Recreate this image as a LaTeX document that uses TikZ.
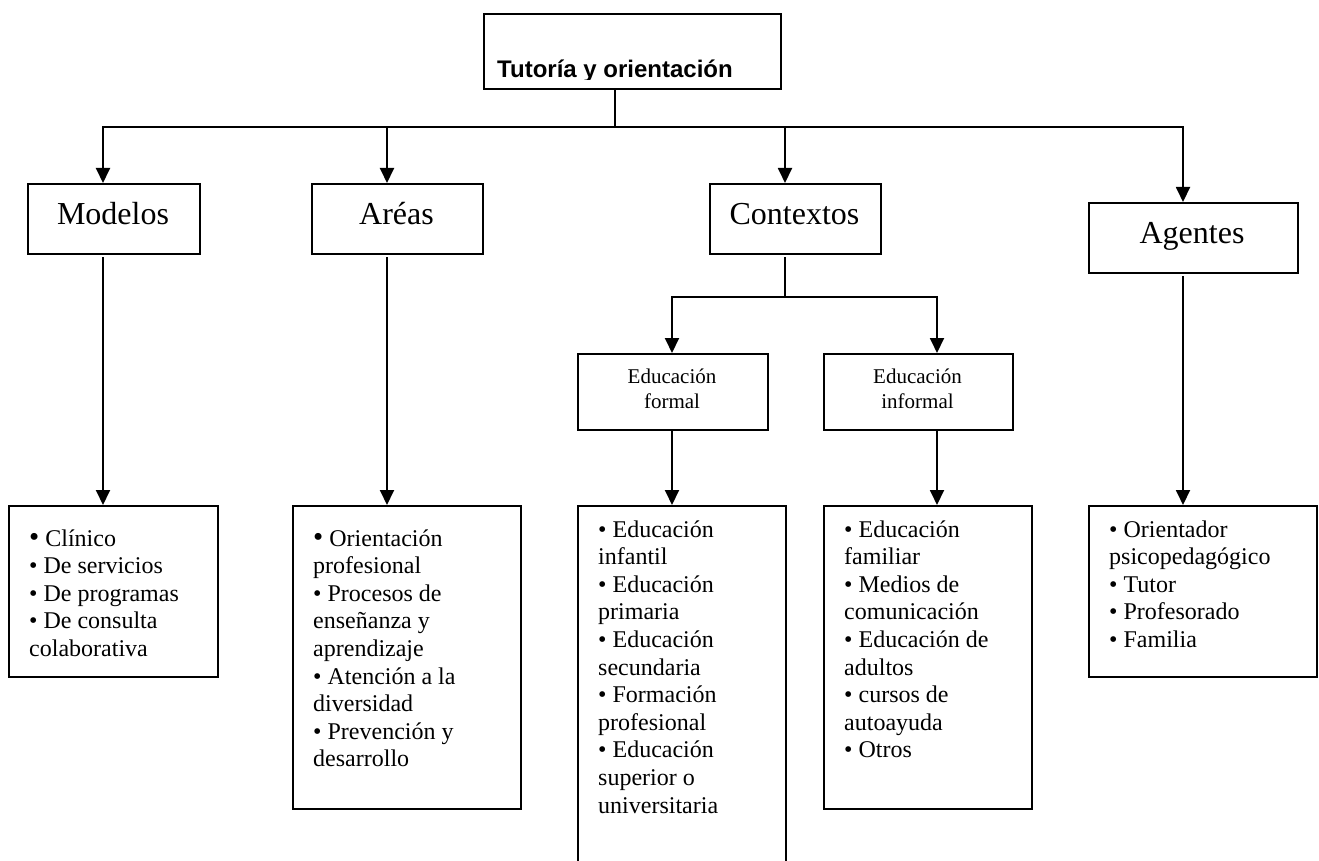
\documentclass[tikz,border=0pt]{standalone}
\usepackage{fontspec}
\setmainfont{Liberation Serif}
\newfontfamily\headfont{Liberation Sans}
\usetikzlibrary{arrows.meta}

\begin{document}
\begin{tikzpicture}[x=1pt,y=-1pt,
  frame/.style={draw, line width=1.9pt, rectangle, inner sep=0pt, anchor=north west},
  link/.style={line width=1.9pt, line cap=rect},
  arr/.style={link, -{Triangle[length=15pt,width=14pt]}},
  headlabel/.style={anchor=base, inner sep=0pt, font=\fontsize{32}{32}\selectfont},
  sublabel/.style={anchor=base, inner sep=0pt, font=\fontsize{21}{25}\selectfont},
  listtext/.style={anchor=base west, inner sep=0pt, font=\fontsize{24}{27.6}\selectfont}]

% page area
\clip (0,0) rectangle (1319,861);
\fill[white] (0,0) rectangle (1319,861);

% root box, its caption is cut off at the lower edge of the text area
\node[frame, minimum width=297pt, minimum height=75pt] (tut) at (483,13) {};
\begin{scope}
  \clip (483,13) rectangle (780,80);
  \node[anchor=base west, inner sep=0pt, font=\headfont\bfseries\fontsize{24}{24}\selectfont] (tutT) at (497,78) {Tutoría y orientación};
\end{scope}

% first level
\node[frame, minimum width=172pt, minimum height=70pt] (mod) at (27,183) {};
\node[frame, minimum width=171pt, minimum height=70pt] (are) at (311,183) {};
\node[frame, minimum width=171pt, minimum height=70pt] (con) at (709,183) {};
\node[frame, minimum width=209pt, minimum height=70pt] (age) at (1088,202) {};
\node[headlabel] (modT) at (113,224) {Modelos};
\node[headlabel] (areT) at (396.5,224) {Aréas};
\node[headlabel] (conT) at (794.5,224) {Contextos};
\node[headlabel] (ageT) at (1192,243) {Agentes};

% contexts
\node[frame, minimum width=190pt, minimum height=76pt] (form) at (577,353) {};
\node[frame, minimum width=189pt, minimum height=76pt] (inf) at (823,353) {};
\node[sublabel] (formT) at (672,383) {\parbox[t]{170pt}{\centering Educación\\formal}};
\node[sublabel] (infT) at (917.5,383) {\parbox[t]{170pt}{\centering Educación\\informal}};

% lists
\node[frame, minimum width=209pt, minimum height=171pt] (modL) at (8,505) {};
\node[frame, minimum width=228pt, minimum height=303pt] (areL) at (292,505) {};
\node[frame, minimum width=208pt, minimum height=420pt] (formL) at (577,505) {};
\node[frame, minimum width=208pt, minimum height=303pt] (infL) at (823,505) {};
\node[frame, minimum width=228pt, minimum height=171pt] (ageL) at (1088,505) {};

\node[listtext] (modLT) at (29,546) {\parbox[t]{185pt}{%
  {\fontsize{29}{24}\selectfont •} Clínico\\
  • De servicios\\
  • De programas\\
  • De consulta\\
  colaborativa}};
\node[listtext] (areLT) at (313,546) {\parbox[t]{200pt}{%
  {\fontsize{29}{24}\selectfont •} Orientación\\
  profesional\\
  • Procesos de\\
  enseñanza y\\
  aprendizaje\\
  • Atención a la\\
  diversidad\\
  • Prevención y\\
  desarrollo}};
\node[listtext] (formLT) at (598,537) {\parbox[t]{185pt}{%
  • Educación\\
  infantil\\
  • Educación\\
  primaria\\
  • Educación\\
  secundaria\\
  • Formación\\
  profesional\\
  • Educación\\
  superior o\\
  universitaria}};
\node[listtext] (infLT) at (844,537) {\parbox[t]{185pt}{%
  • Educación\\
  familiar\\
  • Medios de\\
  comunicación\\
  • Educación de\\
  adultos\\
  • cursos de\\
  autoayuda\\
  • Otros}};
\node[listtext] (ageLT) at (1109,537) {\parbox[t]{205pt}{%
  • Orientador\\
  psicopedagógico\\
  • Tutor\\
  • Profesorado\\
  • Familia}};

% branching points
\coordinate (hub) at (615,127);
\coordinate (busL) at (103,127);
\coordinate (busR) at (1183,127);
\coordinate (aA) at (387,127);
\coordinate (aC) at (785,127);
\coordinate (mS) at (103,258);
\coordinate (aS) at (387,258);
\coordinate (cS) at (785,258);
\coordinate (gS) at (1183,277);
\coordinate (cJ) at (785,297);
\coordinate (cL) at (672,297);
\coordinate (cR) at (937,297);

% connectors
\draw[link] (tut.south -| hub) -- (hub);
\draw[link] (busL) -- (busR);
\draw[arr] (busL) -- (mod.north -| busL);
\draw[arr] (aA) -- (are.north -| aA);
\draw[arr] (aC) -- (con.north -| aC);
\draw[arr] (busR) -- (age.north -| busR);

\draw[arr] (mS) -- (modL.north -| mS);
\draw[arr] (aS) -- (areL.north -| aS);
\draw[arr] (gS) -- (ageL.north -| gS);

\draw[link] (cS) -- (cJ);
\draw[link] (cL) -- (cR);
\draw[arr] (cL) -- (form.north -| cL);
\draw[arr] (cR) -- (inf.north -| cR);
\draw[arr] (form.south -| cL) -- (formL.north -| cL);
\draw[arr] (inf.south -| cR) -- (infL.north -| cR);
\end{tikzpicture}
\end{document}
